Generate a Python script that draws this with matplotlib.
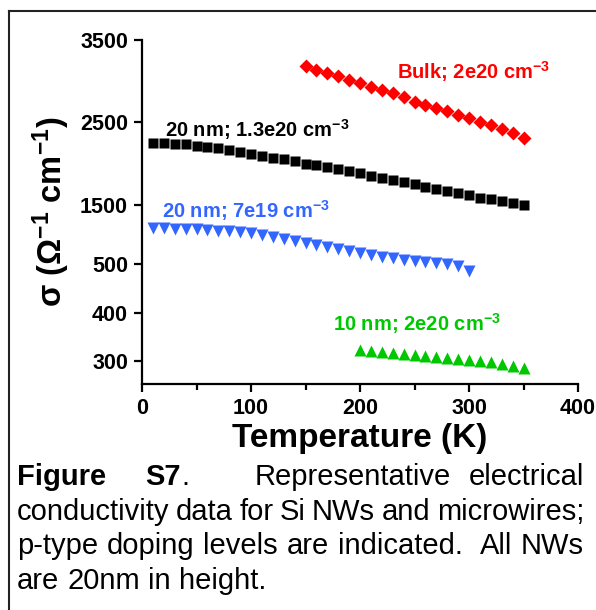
import numpy as np
import matplotlib
matplotlib.use("Agg")
import matplotlib.pyplot as plt
from matplotlib.lines import Line2D

plt.rcParams['font.family'] = ['Liberation Sans', 'DejaVu Sans']
plt.rcParams['mathtext.fontset'] = 'custom'
plt.rcParams['mathtext.rm'] = 'Liberation Sans:bold'
plt.rcParams['mathtext.bf'] = 'Liberation Sans:bold'
plt.rcParams['mathtext.default'] = 'bf'

# ---------------- data ----------------
T_black = [10, 20, 30, 40, 50, 60, 70, 80, 90, 100, 110, 120, 130, 140, 150, 160, 170, 180,
           190, 200, 210, 220, 230, 240, 250, 260, 270, 280, 290, 300, 310, 320, 330, 340, 350]
s_black = [2250, 2245, 2240, 2230, 2215, 2200, 2185, 2165, 2140, 2115, 2090, 2070, 2050, 2025,
           2000, 1980, 1955, 1930, 1905, 1880, 1855, 1830, 1805, 1780, 1750, 1720, 1690, 1665,
           1640, 1615, 1590, 1570, 1550, 1530, 1505]

T_red = [150, 160, 170, 180, 190, 200, 210, 220, 230, 240, 250, 260, 270, 280, 290, 300,
         310, 320, 330, 340, 350]
s_red = [3180, 3140, 3100, 3060, 3010, 2970, 2930, 2890, 2850, 2800, 2750, 2710, 2670, 2630,
         2590, 2550, 2500, 2460, 2420, 2370, 2310]

T_blue = [10, 20, 30, 40, 50, 60, 70, 80, 90, 100, 110, 120, 130, 140, 150, 160, 170, 180,
          190, 200, 210, 220, 230, 240, 250, 260, 270, 280, 290, 300]
s_blue = [1110, 1105, 1100, 1095, 1085, 1075, 1065, 1055, 1045, 1030, 1000, 960, 920, 885,
          850, 815, 780, 750, 720, 685, 650, 620, 595, 570, 550, 535, 520, 505, 495, 485]

T_green = [200, 210, 220, 230, 240, 250, 260, 270, 280, 290, 300, 310, 320, 330, 340, 350]
s_green = [323, 320, 318, 316, 314, 312, 310, 308, 306, 304, 302, 300, 297, 294, 290, 286]

yticks = [300, 400, 500, 1500, 2500, 3500]
xticks = [0, 100, 200, 300, 400]

# segmented y axis: value -> relative height
seg_vals = [250, 300, 400, 500, 1500, 2500, 3500]
seg_pos = [-1.2, 23, 71, 120, 179, 262, 344]

def fwd(y):
    return np.interp(y, seg_vals, seg_pos)

def inv(p):
    return np.interp(p, seg_pos, seg_vals)

W, H = 596, 610
fig = plt.figure(figsize=(W / 100, H / 100), dpi=100)
ax = fig.add_axes([142 / W, (H - 384) / H, 436 / W, 344 / H])
ax.set_yscale('function', functions=(fwd, inv))
ax.set_xlim(0, 400)
ax.set_ylim(inv(0), 3500)

blue = '#3366ff'
green = '#00c800'
ax.plot(T_black, s_black, 's', color='black', ms=7, mec='none')
ax.plot(T_red, s_red, 'D', color='#ff0000', ms=7.5, mec='none')
ax.plot(T_blue, s_blue, 'v', color=blue, ms=9, mec='none')
ax.plot(T_green, s_green, '^', color=green, ms=9, mec='none')

for sp in ['top', 'right']:
    ax.spines[sp].set_visible(False)
for sp in ['left', 'bottom']:
    ax.spines[sp].set_linewidth(1.6)

ax.set_yticks(yticks)
ax.set_yticklabels([str(v) for v in yticks])
ax.yaxis.set_minor_locator(matplotlib.ticker.NullLocator())
ax.set_xticks(xticks)
ax.set_xticks([50, 150, 250, 350], minor=True)
ax.tick_params(axis='both', which='major', length=6, width=1.6, labelsize=15.5, pad=4)
ax.tick_params(axis='x', which='minor', length=4, width=1.6)
for lab in ax.get_xticklabels() + ax.get_yticklabels():
    lab.set_fontweight('bold')

ax.set_xlabel('Temperature (K)', fontsize=24, fontweight='bold', labelpad=3)
ax.set_ylabel(r'σ (Ω$^{-1}$ cm$^{-1}$)', fontsize=23.5, fontweight='bold', labelpad=6)

lab_kw = dict(fontsize=14.5, fontweight='bold', va='center', ha='left')
ax.text(234, 3110, r'Bulk; 2e20 cm$^{-3}$', color='#ff0000', **lab_kw)
ax.text(21, 2410, r'20 nm; 1.3e20 cm$^{-3}$', color='black', **lab_kw)
ax.text(18, 1410, r'20 nm; 7e19 cm$^{-3}$', color=blue, **lab_kw)
ax.text(175, 378, r'10 nm; 2e20 cm$^{-3}$', color=green, **lab_kw)

# frame (left and top edges)
fig.add_artist(Line2D([9 / W, 9 / W], [0, 1 - 11 / H], color='#222222', lw=1.5))
fig.add_artist(Line2D([9 / W, 1], [1 - 11 / H, 1 - 11 / H], color='#222222', lw=1.5))

# caption
fig.canvas.draw()
r = fig.canvas.get_renderer()
cap_fs = 21
x0, x1 = 17, 584

def make_word(segs, yb):
    arts = []
    for s, wgt in segs:
        t = fig.text(0, 1 - yb / H, s, fontsize=cap_fs, fontweight=wgt, va='baseline', ha='left')
        arts.append(t)
    return arts

def seg_width(t):
    return t.get_window_extent(r).width

def place_line(words, gaps, yb, justify=True):
    arts = [make_word(w, yb) for w in words]
    widths = [sum(seg_width(t) for t in a) for a in arts]
    sp = fig.text(0, 0, 'a a', fontsize=cap_fs)
    sp2 = fig.text(0, 0, 'aa', fontsize=cap_fs)
    sw = seg_width(sp) - seg_width(sp2)
    sp.remove(); sp2.remove()
    if justify:
        free = x1 - x0 - sum(widths)
        gw = [free * g / sum(gaps) for g in gaps]
    else:
        gw = [sw * g for g in gaps]
    x = x0
    for i, a in enumerate(arts):
        xx = x
        for t in a:
            t.set_x(xx / W)
            xx += seg_width(t)
        x += widths[i]
        if i < len(gaps):
            x += gw[i]

N, B = 'normal', 'bold'
line1 = [[('Figure', B)], [('S7', B), ('.', N)], [('Representative', N)], [('electrical', N)]]
place_line(line1, [48, 80, 22], 485)
line2 = [[(w, N)] for w in 'conductivity data for Si NWs and microwires;'.split()]
place_line(line2, [1] * (len(line2) - 1), 520)
line3 = [[(w, N)] for w in 'p-type doping levels are indicated. All NWs'.split()]
place_line(line3, [1, 1, 1, 1, 2, 1], 554)
line4 = [[(w, N)] for w in 'are 20nm in height.'.split()]
place_line(line4, [1, 1, 1], 589, justify=False)

fig.savefig('out.png', dpi=100)
